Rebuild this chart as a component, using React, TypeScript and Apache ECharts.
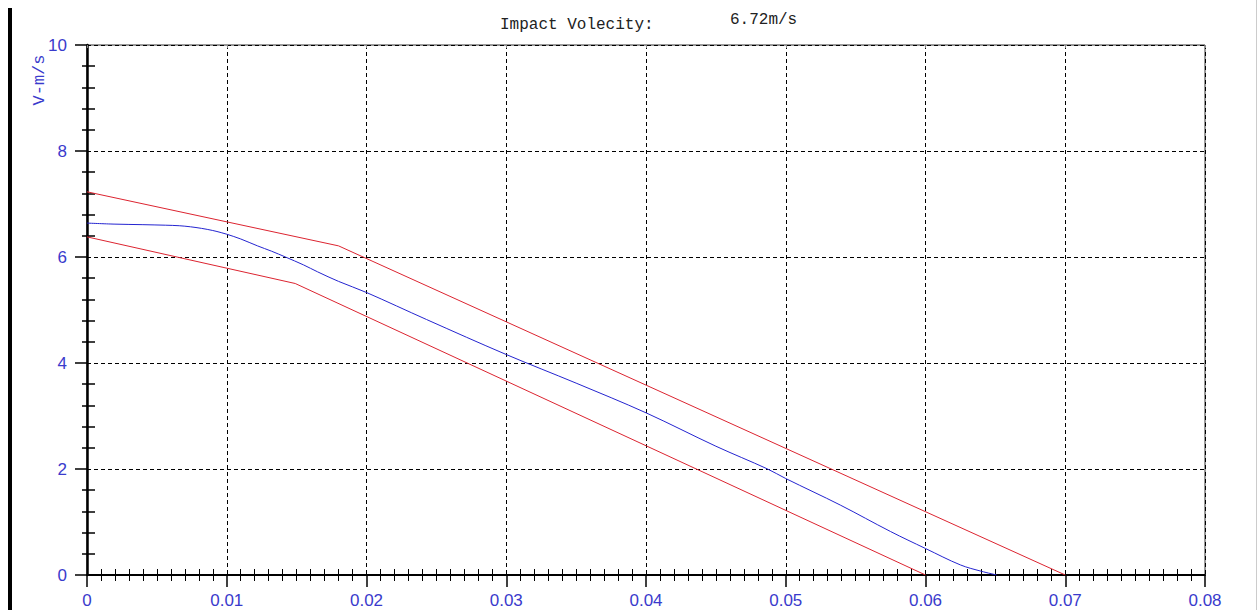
import React, { useEffect, useRef } from "react";
import * as echarts from "echarts";

const xTicks = [0, 0.01, 0.02, 0.03, 0.04, 0.05, 0.06, 0.07, 0.08];
const yTicks = [0, 2, 4, 6, 8, 10];

const measuredX = [0, 0.002, 0.004, 0.0056, 0.0066, 0.0074, 0.0082, 0.009, 0.0096, 0.01, 0.011, 0.0122, 0.0132, 0.0142, 0.0155, 0.0165, 0.018, 0.02, 0.0243, 0.03, 0.035, 0.04, 0.045, 0.0487, 0.05, 0.0539, 0.0575, 0.06, 0.0625, 0.064, 0.0651];
const measuredV = [6.64, 6.62, 6.61, 6.6, 6.59, 6.57, 6.54, 6.5, 6.46, 6.43, 6.34, 6.21, 6.11, 6.0, 5.85, 5.72, 5.54, 5.33, 4.82, 4.16, 3.62, 3.06, 2.43, 2.0, 1.82, 1.32, 0.82, 0.5, 0.19, 0.07, 0];

const upperX = [0, 0.018, 0.07];
const upperV = [7.23, 6.21, 0];

const lowerX = [0, 0.0149, 0.06];
const lowerV = [6.38, 5.5, 0];

const titleLabel = "Impact Volecity:";
const titleValue = "6.72m/s";
const yName = "V-m/s";

const BLUE_TEXT = "#3a3acc";
const RED = "#dc2430";
const BLUE_LINE = "#2424d0";

export default function App() {
  const ref = useRef<HTMLDivElement>(null);
  useEffect(() => {
    document.body.style.margin = "0";
    const chart = echarts.init(ref.current!, null, { renderer: "svg" });
    const zip = (xs: number[], ys: number[]) => xs.map((x, i) => [x, ys[i]]);
    const labelFont = { color: BLUE_TEXT, fontFamily: "Liberation Sans", fontSize: 17 };
    const fmtX = (v: number) => (v === 0 ? "0" : v.toFixed(2));
    const xMin = xTicks[0];
    const xMax = xTicks[xTicks.length - 1];
    const xInt = xTicks[1] - xTicks[0];
    const yMin = yTicks[0];
    const yMax = yTicks[yTicks.length - 1];
    const yInt = yTicks[1] - yTicks[0];
    const dash = { color: "#000", type: [4, 3] as any, width: 1 };
    chart.setOption({
      animation: false,
      backgroundColor: "#fff",
      grid: {
        left: 87, right: 53, top: 45, bottom: 35,
        show: true, borderColor: "#333", borderWidth: 1,
        outerBoundsMode: "none",
      },
      xAxis: [
        {
          type: "value", position: "bottom", min: xMin, max: xMax, interval: xInt,
          axisLine: { show: true, onZero: false, lineStyle: { color: "#000", width: 2 } },
          axisTick: { show: true, length: 12, lineStyle: { color: "#000", width: 1.5 } },
          minorTick: { show: true, splitNumber: 10, length: 6, lineStyle: { color: "#000", width: 1 } },
          axisLabel: { ...labelFont, margin: 17, formatter: fmtX, showMinLabel: true, showMaxLabel: true },
          splitLine: { show: true, lineStyle: dash },
        },
        {
          type: "value", position: "bottom", min: xMin, max: xMax, interval: xInt,
          axisLine: { show: false, onZero: false },
          axisTick: { show: false, inside: true },
          minorTick: { show: true, splitNumber: 10, length: 6, lineStyle: { color: "#000", width: 1 } },
          axisLabel: { show: false },
          splitLine: { show: false },
        },
        {
          type: "value", position: "top", min: xMin, max: xMax, interval: xInt,
          axisLine: { show: false, onZero: false },
          axisTick: { show: true, inside: true, length: 3, lineStyle: { color: "#888", width: 1 } },
          axisLabel: { show: false },
          splitLine: { show: false },
        },
      ],
      yAxis: [
        {
          type: "value", position: "left", min: yMin, max: yMax, interval: yInt,
          axisLine: { show: true, onZero: false, lineStyle: { color: "#000", width: 2.5 } },
          axisTick: { show: true, length: 12, lineStyle: { color: "#000", width: 1.5 } },
          minorTick: { show: true, splitNumber: 5, length: 5, lineStyle: { color: "#000", width: 1.5 } },
          axisLabel: { ...labelFont, margin: 20, showMinLabel: true, showMaxLabel: true },
          splitLine: { show: true, lineStyle: dash },
        },
        {
          type: "value", position: "left", min: yMin, max: yMax, interval: yInt,
          axisLine: { show: false, onZero: false },
          axisTick: { show: false, inside: true },
          minorTick: { show: true, splitNumber: 5, length: 8, lineStyle: { color: "#000", width: 1.5 } },
          axisLabel: { show: false },
          splitLine: { show: false },
        },
      ],
      series: [
        {
          type: "line", data: zip(upperX, upperV), showSymbol: false, symbol: "none",
          lineStyle: { color: RED, width: 1 }, xAxisIndex: 0, yAxisIndex: 0,
        },
        {
          type: "line", data: zip(lowerX, lowerV), showSymbol: false, symbol: "none",
          lineStyle: { color: RED, width: 1 }, xAxisIndex: 0, yAxisIndex: 0,
        },
        {
          type: "line", data: zip(measuredX, measuredV), showSymbol: false, symbol: "none",
          smooth: 0.35,
          lineStyle: { color: BLUE_LINE, width: 1 }, xAxisIndex: 0, yAxisIndex: 0,
        },
      ],
      graphic: [
        { type: "rect", shape: { x: 8, y: 8, width: 4, height: 602 }, style: { fill: "#000" }, silent: true },
        { type: "line", shape: { x1: 1256.5, y1: 0, x2: 1256.5, y2: 610 }, style: { stroke: "#ccc", lineWidth: 1 }, silent: true },
        {
          type: "text", x: 500, y: 25,
          style: { text: titleLabel, font: "16px 'Liberation Mono'", fill: "#222", align: "left", verticalAlign: "middle" },
        },
        {
          type: "text", x: 730, y: 20,
          style: { text: titleValue, font: "16px 'Liberation Mono'", fill: "#222", align: "left", verticalAlign: "middle" },
        },
        {
          type: "text", x: 39, y: 80, rotation: Math.PI / 2,
          style: { text: yName, font: "17px 'Liberation Mono'", fill: BLUE_TEXT, align: "center", verticalAlign: "middle" },
        },
      ],
    });
    return () => chart.dispose();
  }, []);
  return <div ref={ref} style={{ width: 1258, height: 610 }} />;
}
